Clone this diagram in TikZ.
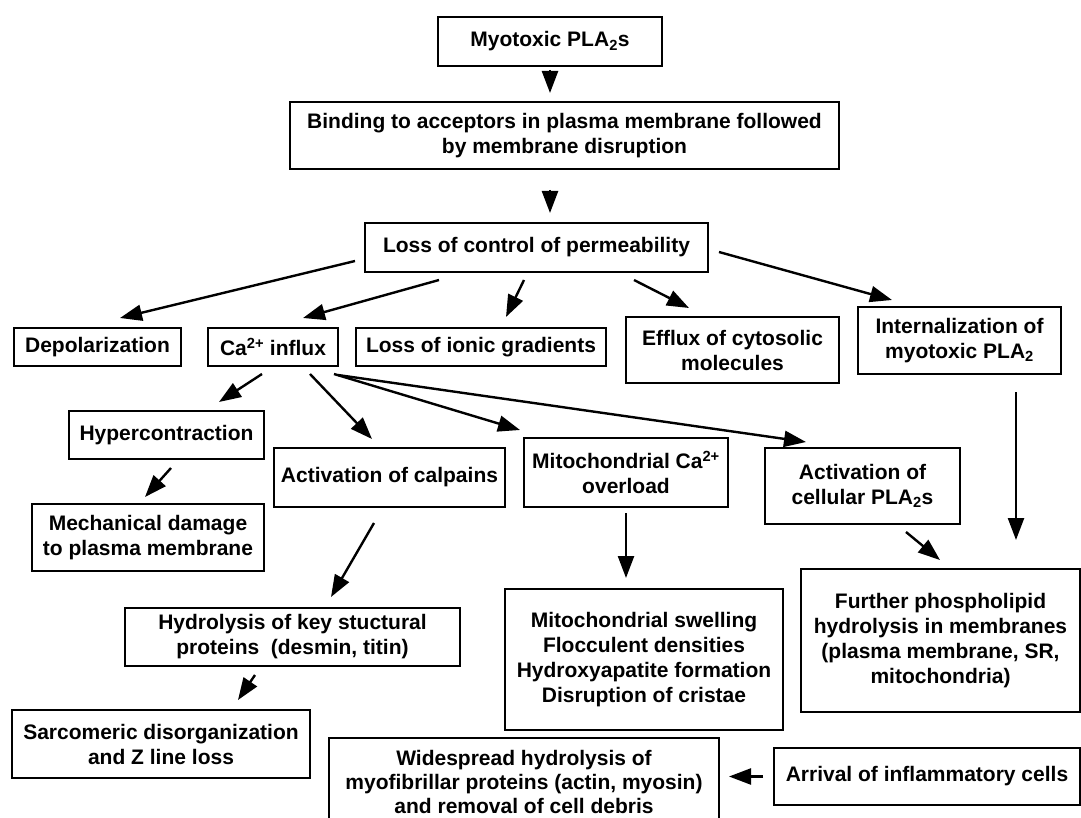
\documentclass[tikz,border=0pt]{standalone}
\usepackage{fontspec}
\setmainfont{Liberation Sans}
\usetikzlibrary{arrows.meta,calc}
\begin{document}
\begin{tikzpicture}[x=1pt,y=-1pt,
  box/.style={draw=black, line width=2.4pt, align=center, inner sep=0pt,
     font=\bfseries\fontsize{21}{25}\selectfont, text=black},
  arr/.style={draw=black, line width=2.4pt, -{Triangle[length=22pt,width=16pt]}}]
\useasboundingbox (0,0) rectangle (1081,818);
\fill[white] (0,0) rectangle (1081,818);
% nodes
\node[box, minimum width=224pt, minimum height=49pt] (myo) at (550,41.5) {Myotoxic PLA\textsubscript{2}s};
\node[box, minimum width=549pt, minimum height=67pt] (bind) at (564.5,135.5) {Binding to acceptors in plasma membrane followed\\by membrane disruption};
\node[box, minimum width=343pt, minimum height=49pt] (loss) at (536.5,247.5) {Loss of control of permeability};
\node[box, minimum width=167pt, minimum height=38pt] (depol) at (97.5,347) {Depolarization};
\node[box, minimum width=130pt, minimum height=38pt] (ca) at (273,347) {Ca\textsuperscript{2+} influx};
\node[box, minimum width=250pt, minimum height=38pt] (ionic) at (481,347) {Loss of ionic gradients};
\node[box, minimum width=213pt, minimum height=66pt] (efflux) at (732.5,350) {Efflux of cytosolic\\molecules};
\node[box, minimum width=203pt, minimum height=67pt] (intern) at (959.5,340.5) {Internalization of\\myotoxic PLA\textsubscript{2}};
\node[box, minimum width=195pt, minimum height=48pt] (hyper) at (166.5,435) {Hypercontraction};
\node[box, minimum width=231pt, minimum height=59pt] (calp) at (389.5,477.5) {Activation of calpains};
\node[box, minimum width=204pt, minimum height=69pt] (mito) at (626,472.5) {Mitochondrial Ca\textsuperscript{2+}\\overload};
\node[box, minimum width=195pt, minimum height=76pt] (cpla) at (862.5,486) {Activation of\\cellular PLA\textsubscript{2}s};
\node[box, minimum width=232pt, minimum height=67pt] (mech) at (148,537.5) {Mechanical damage\\to plasma membrane};
\node[box, minimum width=335pt, minimum height=58pt] (hydro) at (292.5,637) {Hydrolysis of key stuctural\\proteins~ (desmin, titin)};
\node[box, minimum width=278pt, minimum height=141pt] (swell) at (644,659.5) {Mitochondrial swelling\\Flocculent densities\\Hydroxyapatite formation\\Disruption of cristae};
\node[box, minimum width=279pt, minimum height=143pt] (further) at (940.5,640.5) {Further phospholipid\\hydrolysis in membranes\\(plasma membrane, SR,\\mitochondria)};
\node[box, minimum width=298pt, minimum height=68pt] (sarc) at (161,744) {Sarcomeric disorganization\\and Z line loss};
\node[box, minimum width=390pt, minimum height=88pt, font=\bfseries\fontsize{21}{24}\selectfont] (wide) at (524,782) {Widespread hydrolysis of\\myofibrillar proteins (actin, myosin)\\and removal of cell debris};
\node[box, minimum width=306pt, minimum height=57pt] (arrival) at (927,776.5) {Arrival of inflammatory cells};
% connectors
\draw[arr] ([shift={(0pt,-28.5pt)}]myo.center) -- ([shift={(-14.5pt,42.5pt)}]bind.center);
\draw[arr] ([shift={(-14.5pt,-54.5pt)}]bind.center) -- ([shift={(13.5pt,34.5pt)}]loss.center);
\draw[arr] ([shift={(-181.5pt,-13.5pt)}]loss.center) -- ([shift={(22.5pt,29pt)}]depol.center);
\draw[arr] ([shift={(-97.5pt,-32.5pt)}]loss.center) -- ([shift={(30pt,29pt)}]ca.center);
\draw[arr] ([shift={(-12.5pt,-32.5pt)}]loss.center) -- ([shift={(25pt,30pt)}]ionic.center);
\draw[arr] ([shift={(97.5pt,-32.5pt)}]loss.center) -- ([shift={(-43.5pt,42pt)}]efflux.center);
\draw[arr] ([shift={(182.5pt,-4.5pt)}]loss.center) -- ([shift={(-67.5pt,40.5pt)}]intern.center);
\draw[arr] ([shift={(-11pt,-27pt)}]ca.center) -- ([shift={(52.5pt,33pt)}]hyper.center);
\draw[arr] ([shift={(37pt,-27pt)}]ca.center) -- ([shift={(-17.5pt,38.5pt)}]calp.center);
\draw[arr] ([shift={(61pt,-27pt)}]ca.center) -- ([shift={(-106pt,42.5pt)}]mito.center);
\draw[arr] ([shift={(65pt,-28pt)}]ca.center) -- ([shift={(-56.5pt,44pt)}]cpla.center);
\draw[arr] ([shift={(56.5pt,-51.5pt)}]intern.center) -- ([shift={(75.5pt,100.5pt)}]further.center);
\draw[arr] ([shift={(4.5pt,-33pt)}]hyper.center) -- ([shift={(-3pt,40.5pt)}]mech.center);
\draw[arr] ([shift={(-15.5pt,-45.5pt)}]calp.center) -- ([shift={(38.5pt,40pt)}]hydro.center);
\draw[arr] ([shift={(0pt,-40.5pt)}]mito.center) -- ([shift={(-18pt,81.5pt)}]swell.center);
\draw[arr] ([shift={(43.5pt,-46pt)}]cpla.center) -- ([shift={(-0.5pt,80.5pt)}]further.center);
\draw[arr] ([shift={(-37.5pt,-38pt)}]hydro.center) -- ([shift={(77pt,44pt)}]sarc.center);
\draw[arr] ([shift={(-164pt,0pt)}]arrival.center) -- ([shift={(205pt,5.5pt)}]wide.center);
\end{tikzpicture}
\end{document}
